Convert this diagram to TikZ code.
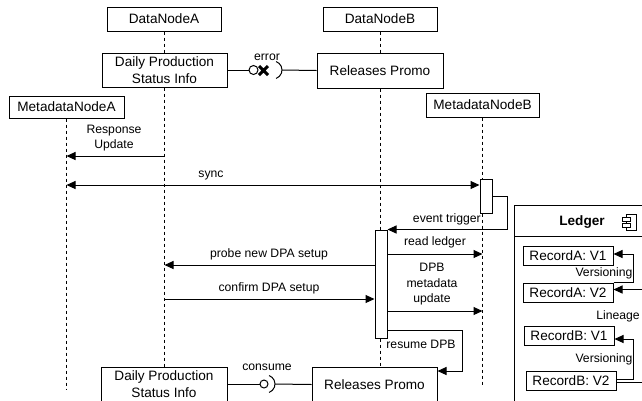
\documentclass[tikz,border=0pt]{standalone}
\usepackage{fontspec}
\setmainfont{Liberation Sans}
\usetikzlibrary{arrows.meta}
\tikzset{
  box/.style={draw,fill=white,line width=1pt,inner sep=0pt,align=center,
    font=\fontsize{13.6}{17}\selectfont},
  rec/.style={box,minimum width=90pt,minimum height=19pt},
  lbl/.style={inner sep=0pt,align=center,font=\fontsize{12.2}{15.5}\selectfont},
  life/.style={line width=1pt,dash pattern=on 3pt off 3pt},
  msg/.style={line width=1pt,-{Triangle[length=9pt,width=8pt]}},
  act/.style={draw,fill=white,line width=1pt,minimum width=12pt,inner sep=0pt},
}
\begin{document}
\begin{tikzpicture}[x=1pt,y=-1pt]
\useasboundingbox (0,0) rectangle (642,400);
% participants
\node[box,minimum width=114pt,minimum height=24pt] (dnA) at (164,19) {DataNodeA};
\node[box,minimum width=114pt,minimum height=24pt] (dnB) at (380,19) {DataNodeB};
\node[box,minimum width=125pt,minimum height=34pt] (dpsiTop) at (164.5,70) {Daily Production\\Status Info};
\node[box,minimum width=126pt,minimum height=35pt] (rpTop) at (380,70.5) {Releases Promo};
\node[box,minimum width=115pt,minimum height=22pt] (mnA) at (66.5,107) {MetadataNodeA};
\node[box,minimum width=113pt,minimum height=24pt] (mnB) at (482.5,105) {MetadataNodeB};
\coordinate (mnAend) at (66.5,390);
\coordinate (mnBend) at (482.5,387);
% lifelines
\draw[life] (dnA.south) -- (dnA.south |- dpsiTop.north);
\draw[life] (dnB.south) -- (dnB.south |- rpTop.north);
\draw[life] (mnA.south) -- (mnAend);
\draw[life] (mnB.south) -- (mnBend);
\node[act,minimum height=34pt] (actB1) at (486,196) {};
\node[act,minimum height=108pt] (actB2) at (381,284) {};
\draw[life] (rpTop.south) -- (dnB |- actB2.north);
\node[box,minimum width=126pt,minimum height=34pt] (dpsiBot) at (164,384) {Daily Production\\Status Info};
\node[box,minimum width=125pt,minimum height=35pt] (rpBot) at (374.5,384.5) {Releases Promo};
\draw[life] (dpsiTop.south) -- (dpsiTop.south |- dpsiBot.north);
\draw[life] (dnB |- actB2.south) -- (dnB |- rpBot.north);
% messages
\draw[msg] (dpsiTop |- 0,156) -- (mnA |- 0,156);
\node[lbl] at (114,138) {Response\\Update};
\draw[line width=1pt,{Triangle[length=9pt,width=8pt]}-{Triangle[length=9pt,width=8pt]}]
  (mnA |- 0,185) -- (actB1.west |- 0,185);
\node[lbl] at (211,175) {sync};
\draw[msg] (actB1.east |- 0,196) -- ++(15,0) |- (actB2.north east);
\node[lbl,anchor=east] at (481,219) {event trigger};
\draw[msg] (actB2.east |- 0,254) -- (mnB |- 0,254);
\node[lbl] at (435,242) {read ledger};
\draw[msg] (actB2.west |- 0,265) -- (dpsiTop |- 0,265);
\node[lbl] at (269,254) {probe new DPA setup};
\draw[msg] (dpsiTop |- 0,299) -- (actB2.west |- 0,299);
\node[lbl] at (269,288) {confirm DPA setup};
\draw[msg] (actB2.east |- 0,311) -- (mnB |- 0,311);
\node[lbl] at (432,284.5) {DPB\\metadata\\update};
\draw[msg] (actB2.east |- 0,330) -- ++(75,0) |- (rpBot.east |- 0,371);
\node[lbl] at (421,344) {resume DPB};
% interfaces
\coordinate (errBall) at (253.5,70);
\coordinate (errSock) at (273,70);
\draw[line width=1pt] (dpsiTop.east) -- (errBall);
\draw[line width=1pt,fill=white] (errBall) circle[radius=4.5pt];
\draw[line width=3pt] (259,66) -- (268,75) (259,75) -- (268,66);
\draw[line width=1pt] ([shift={(70:9pt)}]errSock) arc[start angle=70,end angle=-70,radius=9pt];
\draw[line width=1pt] ([xshift=9pt]errSock) -- (rpTop.west);
\node[lbl] at (267,57) {error};
\coordinate (conBall) at (264,384);
\coordinate (conSock) at (266,384);
\draw[line width=1pt] (dpsiBot.east) -- (conBall);
\draw[line width=1pt,fill=white] (conBall) circle[radius=4pt];
\draw[line width=1pt] ([shift={(70:9pt)}]conSock) arc[start angle=70,end angle=-70,radius=9pt];
\draw[line width=1pt] ([xshift=9pt]conSock) -- (rpBot.west);
\node[lbl] at (267,367) {consume};
% ledger
\draw[line width=1pt] (514,205) rectangle (660,420);
\draw[line width=1pt] (514,236) -- (660,236);
\node[box,draw=none,fill=none,font=\fontsize{13.6}{17}\selectfont\bfseries] at (582,222) {Ledger};
\draw[line width=1pt,fill=white] (626,214) rectangle (636,230);
\draw[line width=1pt,fill=white] (622,217) rectangle (630,221);
\draw[line width=1pt,fill=white] (622,223) rectangle (630,227);
\node[rec] (rAv1) at (568,256) {RecordA: V1};
\node[rec] (rAv2) at (568,292.5) {RecordA: V2};
\node[rec] (rBv1) at (569,335.5) {RecordB: V1};
\node[rec] (rBv2) at (571,380.5) {RecordB: V2};
\draw[msg] (rAv2.north east) -- ++(20,0) |- ([yshift=2pt]rAv1.east);
\node[lbl] at (604,273) {Versioning};
\draw[msg] ([yshift=-1.5pt]rBv2.east) -- ++(50,0) |- ([yshift=3pt]rAv2.east);
\node[lbl] at (618,316) {Lineage};
\draw[msg] ([yshift=1pt]rBv2.east) -- ++(17,0) |- ([yshift=-3.5pt]rBv1.east);
\node[lbl] at (604,359) {Versioning};
\end{tikzpicture}
\end{document}
